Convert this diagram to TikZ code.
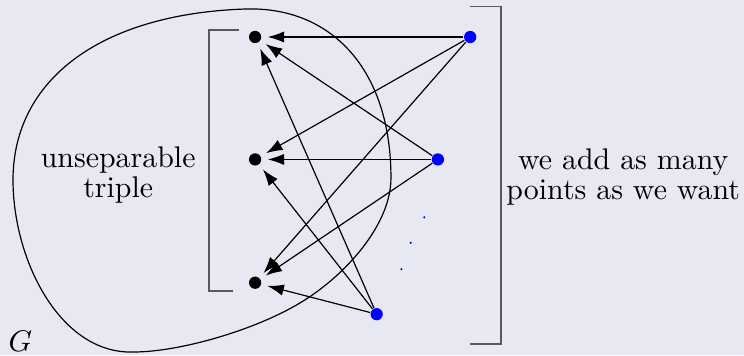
\documentclass[tikz,border=0pt]{standalone}
\usepackage{amsmath,amssymb}
\usepackage{xcolor}
\usepackage{tikz}
\usetikzlibrary{arrows.meta,positioning,calc}

\definecolor{bgcol}{RGB}{232,232,242}
\definecolor{ptblue}{RGB}{0,0,255}

\begin{document}
\begin{tikzpicture}[
    blk/.style={circle, fill=black, inner sep=0pt, minimum size=4.1pt},
    blu/.style={circle, fill=ptblue, inner sep=0pt, minimum size=4.1pt},
    tinydot/.style={circle, fill=ptblue, inner sep=0pt, minimum size=0.8pt},
    link/.style={-{Latex[length=5.5pt,width=3.8pt]}, shorten >=2pt},
    brack/.style={black!65, line width=0.5pt},
    sidetext/.style={align=center, font=\fontsize{10}{10}\selectfont}
]
    % Background and size
    \fill[bgcol] (0,0) rectangle (8.75,4.175);
    \useasboundingbox (0,0) rectangle (8.75,4.175);

    % The set G
    \draw[thin] (2.881,4.069) .. controls (3.881,4.104) and (4.598,3.375) .. (4.598,2.082)
        .. controls (4.598,1.529) and (4.057,0.929) .. (3.528,0.612)
        .. controls (2.999,0.294) and (2.117,0.035) .. (1.564,0.035)
        .. controls (0.706,0.012) and (0.153,1.117) .. (0.153,2.058)
        .. controls (0.153,3.234) and (1.176,4.010) .. (2.881,4.069) -- cycle;
    \node (gname) at (0.24,0.16) {$G$};

    % The triple
    \node[blk] (t1) at (3.00,3.74) {};
    \node[blk] (t2) at (3.00,2.30) {};
    \node[blk] (t3) at (3.00,0.85) {};

    % Added points
    \node[blu] (p1) at (5.53,3.74) {};
    \node[blu] (p2) at (5.15,2.30) {};
    \node[blu] (p3) at (4.43,0.48) {};
    \node[tinydot] (d1) at (4.99,1.62) {};
    \node[tinydot] (d2) at (4.83,1.32) {};
    \node[tinydot] (d3) at (4.72,1.01) {};

    % Every added point sees every point of the triple
    \foreach \p in {1,2,3}
        \foreach \t in {1,2,3}
            \draw[link] (p\p) -- (t\t);

    % Brackets
    \draw[brack] (2.81,3.82) -- (2.46,3.82) -- (2.46,0.75) -- (2.74,0.75);
    \draw[brack] (5.53,4.10) -- (5.89,4.10) -- (5.89,0.13) -- (5.53,0.13);

    % Texts
    \node[sidetext] (lefttext) at (1.39,2.12) {unseparable\\triple};
    \node[sidetext] (righttext) at (7.33,2.09) {we add as many\\points as we want};
\end{tikzpicture}
\end{document}
